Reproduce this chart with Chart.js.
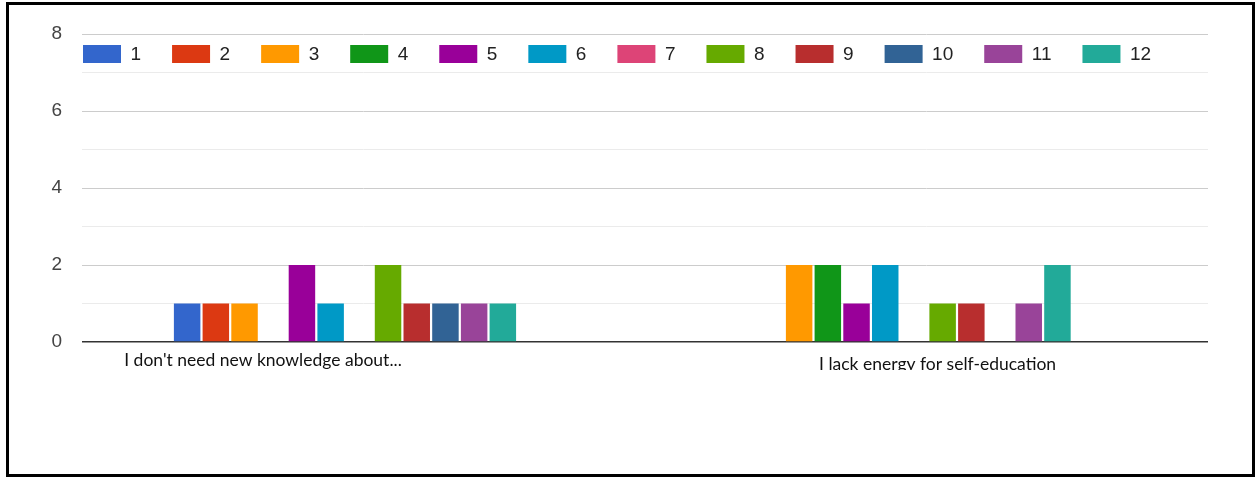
<!DOCTYPE html>
<html>
<head>
<meta charset="utf-8">
<title>Reasons for not self-educating</title>
<script src="https://cdn.jsdelivr.net/npm/chart.js@4/dist/chart.umd.min.js"></script>
<style>
  html, body { margin: 0; padding: 0; background: #fff; }
  #wrap { position: relative; width: 1259px; height: 477px; }
  #frame {
    position: absolute; left: 6px; top: 2px;
    width: 1243px; height: 469px;
    border: 3px solid #000;
    pointer-events: none;
  }
</style>
</head>
<body>
<div id="wrap">
  <canvas id="answers" width="1259" height="477"></canvas>
  <div id="frame"></div>
</div>
<script>
// answer options (x groups)
const categories = ["I don't need new knowledge about...", 'I lack energy for self-education'];

// respondents 1..12
const seriesNames = ['1', '2', '3', '4', '5', '6', '7', '8', '9', '10', '11', '12'];

// counts per respondent for each answer
const dontNeedCounts   = [1, 1, 1, 0, 2, 1, 0, 2, 1, 1, 1, 1];
const lackEnergyCounts = [0, 0, 2, 2, 1, 2, 0, 1, 1, 0, 1, 2];

const yTicks = [0, 2, 4, 6, 8];

const palette = [
    '#3366cc', '#dc3912', '#ff9900', '#109618', '#990099', '#0099c6',
    '#dd4477', '#66aa00', '#b82e2e', '#316395', '#994499', '#22aa99'
];

const datasets = seriesNames.map((name, i) => ({
    label: name,
    data: [
        { x: 0, y: dontNeedCounts[i] },
        { x: 1, y: lackEnergyCounts[i] }
    ],
    backgroundColor: palette[i],
    borderWidth: 0,
    categoryPercentage: 0.621,
    barPercentage: 0.923
}));

// legend drawn inside the plot, under the top gridline
const insideLegend = {
    id: 'insideLegend',
    afterDatasetsDraw(chart, args, opts) {
        const { ctx, chartArea } = chart;
        ctx.save();
        ctx.font = opts.font;
        ctx.textBaseline = 'middle';
        ctx.textAlign = 'left';
        let x = chartArea.left + 1;
        const top = chartArea.top + opts.offsetY;
        chart.data.datasets.forEach(ds => {
            ctx.fillStyle = ds.backgroundColor;
            ctx.fillRect(x, top, opts.boxWidth, opts.boxHeight);
            const tx = x + opts.boxWidth + opts.gap;
            ctx.fillStyle = opts.color;
            ctx.fillText(ds.label, tx, top + opts.boxHeight / 2 + 1);
            x = tx + ctx.measureText(ds.label).width + opts.spacing;
        });
        ctx.restore();
    }
};

// category captions under the axis
const groupCaptions = {
    id: 'groupCaptions',
    afterDraw(chart, args, opts) {
        const { ctx } = chart;
        const xs = chart.scales.x;
        ctx.save();
        ctx.font = opts.font;
        ctx.fillStyle = opts.color;
        ctx.textAlign = 'center';
        ctx.textBaseline = 'alphabetic';
        categories.forEach((text, i) => {
            ctx.save();
            if (opts.clipBottom[i]) {
                ctx.beginPath();
                ctx.rect(0, 0, chart.width, opts.clipBottom[i]);
                ctx.clip();
            }
            const x = xs.getPixelForValue(i) + opts.shiftX[i];
            ctx.fillText(text, x, opts.baseline[i]);
            ctx.restore();
        });
        ctx.restore();
    }
};

new Chart(document.getElementById('answers'), {
    type: 'bar',
    data: { datasets },
    plugins: [insideLegend, groupCaptions],
    options: {
        responsive: false,
        animation: false,
        layout: { padding: { top: 34, right: 51, left: 0, bottom: 0 } },
        scales: {
            x: {
                type: 'linear',
                offset: false,
                bounds: 'data',
                min: -0.4742,
                max: 1.5561,
                grid: { display: false, offset: false },
                border: { display: false },
                ticks: { display: false },
                afterBuildTicks: (scale) => {
                    scale.ticks = categories.map((_, i) => ({ value: i }));
                },
                afterFit: (scale) => { scale.height = 135; }
            },
            y: {
                min: 0,
                max: 8,
                border: { display: false },
                grid: {
                    drawTicks: false,
                    color: (c) => c.tick.value === 0 ? '#333' : (c.tick.value % 2 ? '#ebebeb' : '#cccccc'),
                    lineWidth: (c) => c.tick.value === 0 ? 1.6 : 1
                },
                ticks: {
                    stepSize: 1,
                    padding: 20,
                    color: '#444',
                    font: { family: 'Arial, "Liberation Sans", sans-serif', size: 19 },
                    callback: (v) => yTicks.includes(v) ? v : ''
                },
                afterFit: (scale) => { scale.width = 82; }
            }
        },
        plugins: {
            legend: { display: false },
            tooltip: { enabled: false },
            insideLegend: {
                font: '19px Arial, "Liberation Sans", sans-serif',
                color: '#222',
                offsetY: 11,
                boxWidth: 38,
                boxHeight: 18,
                gap: 9.5,
                spacing: 31
            },
            groupCaptions: {
                font: '17.5px Lato, "Open Sans", sans-serif',
                color: '#111',
                shiftX: [-82, 38],
                baseline: [366, 370],
                clipBottom: [null, 370]
            }
        }
    }
});
</script>
</body>
</html>
